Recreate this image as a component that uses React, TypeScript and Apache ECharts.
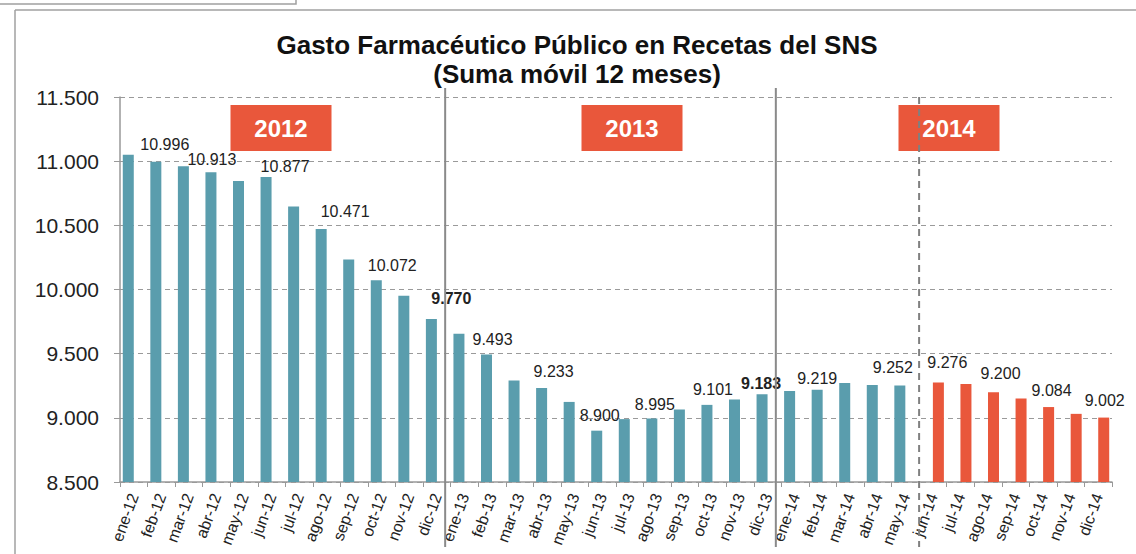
import React, { useEffect, useRef } from "react";
import * as echarts from "echarts";

const months = [
  "ene-12", "feb-12", "mar-12", "abr-12", "may-12", "jun-12", "jul-12", "ago-12", "sep-12", "oct-12", "nov-12", "dic-12",
  "ene-13", "feb-13", "mar-13", "abr-13", "may-13", "jun-13", "jul-13", "ago-13", "sep-13", "oct-13", "nov-13", "dic-13",
  "ene-14", "feb-14", "mar-14", "abr-14", "may-14", "jun-14", "jul-14", "ago-14", "sep-14", "oct-14", "nov-14", "dic-14",
];

const values = [
  11050, 10996, 10960, 10913, 10846, 10877, 10646, 10471, 10234, 10072, 9952, 9770,
  9656, 9493, 9291, 9233, 9124, 8900, 8990, 8995, 9065, 9101, 9143, 9183,
  9210, 9219, 9272, 9255, 9252, 9276, 9264, 9200, 9151, 9084, 9031, 9002,
];

const firstRedMonth = "jun-14";
const labeledMonths = [
  "feb-12", "abr-12", "jun-12", "ago-12", "oct-12", "dic-12",
  "feb-13", "abr-13", "jun-13", "ago-13", "oct-13", "dic-13",
  "feb-14", "may-14", "jun-14", "ago-14", "oct-14", "dic-14",
];
const boldMonths = ["dic-12", "dic-13"];
const yearLabels = ["2012", "2013", "2014"];
const yearStartMonths = ["ene-13", "ene-14"];
const titleLines = ["Gasto Farmacéutico Público en Recetas del SNS", "(Suma móvil 12 meses)"];
const yMin = 8500;
const yMax = 11500;
const yStep = 500;

const FONT = "'Liberation Sans', Arial, Helvetica, sans-serif";
const TEAL = "#5A9DAD";
const RED = "#E9573B";

const fmt = (v: number) => {
  const s = Math.round(v).toString();
  return s.replace(/\B(?=(\d{3})+(?!\d))/g, ".");
};

// label placement tweaks (style, not data)
const labelShift: Record<string, [number, number]> = {
  "feb-12": [9, -9], "abr-12": [1, -5], "jun-12": [19, -2], "ago-12": [24, -10], "oct-12": [16, -7], "dic-12": [20, -13],
  "feb-13": [6, -7], "abr-13": [12, -8], "jun-13": [3, -7], "ago-13": [3, -6], "oct-13": [6, -7], "dic-13": [-1, -3],
  "feb-14": [0, -3], "may-14": [-7, -10], "jun-14": [9, -12], "ago-14": [7, -11], "oct-14": [3, -9], "dic-14": [1, -9],
};

export default function App() {
  const ref = useRef<HTMLDivElement>(null);

  useEffect(() => {
    if (!ref.current) return;
    const chart = echarts.init(ref.current, null, { renderer: "svg" });
    const redStart = months.indexOf(firstRedMonth);

    const makeItem = (i: number, show: boolean) => {
      if (!show) return "-";
      const m = months[i];
      if (labeledMonths.includes(m)) {
        return {
          value: values[i],
          label: {
            show: true,
            position: "top",
            distance: 0,
            offset: labelShift[m] || [0, -6],
            formatter: (p: any) => fmt(p.value),
            fontSize: 16,
            fontFamily: FONT,
            color: "#222",
            fontWeight: boldMonths.includes(m) ? "bold" : "normal",
          },
        };
      }
      return values[i];
    };

    const tealData = months.map((_, i) => makeItem(i, i < redStart));
    const redData = months.map((_, i) => makeItem(i, i >= redStart));

    chart.setOption({
      animation: false,
      grid: { left: 120, right: 24, top: 97, bottom: 72, containLabel: false },
      xAxis: {
        type: "category",
        data: months,
        boundaryGap: true,
        axisLine: { show: true, lineStyle: { color: "#999", width: 1.5 } },
        axisTick: { show: true, interval: 0, length: 5, lineStyle: { color: "#999" } },
        axisLabel: {
          interval: 0,
          rotate: 70,
          margin: 12,
          fontSize: 16,
          fontFamily: FONT,
          color: "#222",
        },
        splitLine: { show: false },
      },
      yAxis: {
        type: "value",
        min: yMin,
        max: yMax,
        interval: yStep,
        axisLine: { show: true, lineStyle: { color: "#999", width: 1.5 } },
        axisTick: { show: true, length: 6, lineStyle: { color: "#999" } },
        axisLabel: {
          margin: 21,
          fontSize: 21,
          fontFamily: FONT,
          color: "#222",
          formatter: (v: number) => fmt(v),
        },
        splitLine: { show: true, lineStyle: { color: "#9a9a9a", type: [5, 4], width: 1.2 } },
      },
      series: [
        {
          type: "bar",
          data: tealData,
          barWidth: 11,
          barGap: "0%",
          itemStyle: { color: TEAL },
        },
        {
          type: "bar",
          data: redData,
          barWidth: 11,
          barGap: "0%",
          itemStyle: { color: RED },
        },
      ],
    });

    const cx = (m: string) => chart.convertToPixel({ xAxisIndex: 0 }, m) as number;
    const half = 5.5;
    const yTop = chart.convertToPixel({ yAxisIndex: 0 }, yMax) as number;

    const graphics: any[] = [];
    // frame
    graphics.push({ type: "line", shape: { x1: 15, y1: 10, x2: 1136, y2: 10 }, style: { stroke: "#a0a0a0", lineWidth: 1.5 } });
    graphics.push({ type: "line", shape: { x1: 15, y1: 10, x2: 15, y2: 554 }, style: { stroke: "#a0a0a0", lineWidth: 1.5 } });
    graphics.push({ type: "polyline", shape: { points: [[0, 4], [296, 4], [296, 0]] }, style: { stroke: "#a0a0a0", lineWidth: 1.5, fill: "none" } });

    // title
    titleLines.forEach((t, k) => {
      graphics.push({
        type: "text",
        x: 577,
        y: 45 + k * 29,
        style: {
          text: t,
          font: `bold 26px ${FONT}`,
          fill: "#111",
          textAlign: "center",
          textVerticalAlign: "middle",
        },
      });
    });

    // year separators
    yearStartMonths.forEach((m) => {
      const i = months.indexOf(m);
      const x = (cx(months[i - 1]) + cx(months[i])) / 2 - half;
      graphics.push({ type: "line", z: 10, shape: { x1: x, y1: 88, x2: x, y2: 547 }, style: { stroke: "#8a8a8a", lineWidth: 2 } });
    });
    {
      const x = (cx(months[redStart - 1]) + cx(months[redStart])) / 2;
      graphics.push({ type: "line", z: 10, shape: { x1: x, y1: yTop, x2: x, y2: 547 }, style: { stroke: "#808080", lineWidth: 2, lineDash: [7, 5] } });
    }

    // year boxes
    const boxCenters = [281, 632, 949];
    yearLabels.forEach((y, k) => {
      graphics.push({
        type: "group",
        x: boxCenters[k] - 50.5,
        y: 105,
        z: 20,
        children: [
          { type: "rect", shape: { x: 0, y: 0, width: 101, height: 46 }, style: { fill: RED } },
          {
            type: "text",
            x: 50.5,
            y: 23,
            style: {
              text: y,
              font: `bold 24px ${FONT}`,
              fill: "#fff",
              textAlign: "center",
              textVerticalAlign: "middle",
            },
          },
        ],
      });
    });

    chart.setOption({ graphic: graphics });

    return () => chart.dispose();
  }, []);

  return (
    <div
      ref={ref}
      style={{ position: "absolute", left: 0, top: 0, width: 1136, height: 554, background: "#fff" }}
    />
  );
}
